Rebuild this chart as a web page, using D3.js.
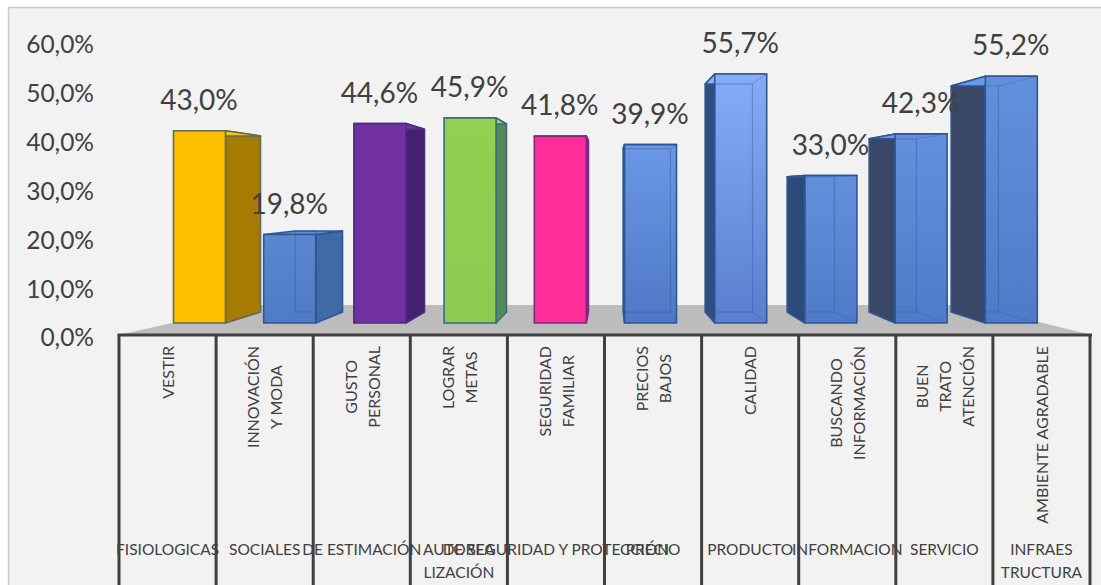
<!DOCTYPE html>
<html lang="es">
<head>
<meta charset="utf-8">
<title>Motivaciones de compra</title>
<script src="https://cdn.jsdelivr.net/npm/d3@7/dist/d3.min.js"></script>
<style>
  html, body { margin: 0; padding: 0; background: #fff; }
  svg { display: block; }
  text { font-family: Lato, "Open Sans", sans-serif; fill: #404040; }
</style>
</head>
<body>
<svg id="chart" width="1101" height="585"></svg>
<script>
// Chart values
const needs = [
  ["VESTIR"], ["INNOVACIÓN", "Y MODA"], ["GUSTO", "PERSONAL"], ["LOGRAR", "METAS"],
  ["SEGURIDAD", "FAMILIAR"], ["PRECIOS", "BAJOS"], ["CALIDAD"],
  ["BUSCANDO", "INFORMACIÓN"], ["BUEN", "TRATO", "ATENCIÓN"], ["AMBIENTE AGRADABLE"]
];
const groups = [
  ["FISIOLOGICAS"], ["SOCIALES"], ["DE ESTIMACIÓN"], ["AUTOREA", "LIZACIÓN"],
  ["DE SEGURIDAD Y PROTECCIÓN"], ["PRECIO"], ["PRODUCTO"], ["INFORMACION"],
  ["SERVICIO"], ["INFRAES", "TRUCTURA"]
];
const percentages = [43.0, 19.8, 44.6, 45.9, 41.8, 39.9, 55.7, 33.0, 42.3, 55.2];
const valueTicks = [0, 10, 20, 30, 40, 50, 60];

// Face colours per bar: front top, front bottom, side, outline
const frontTop    = ["#ffc000", "#5a88cf", "#7030a0", "#92d050", "#ff2d9a", "#6a98e6", "#86acf6", "#6390dc", "#6390dc", "#6390dc"];
const frontBottom = ["#ffc000", "#4f7bc6", "#7030a0", "#8ccb50", "#ff2d9a", "#4f78c6", "#5a7ecd", "#4f7ac8", "#4f7ac8", "#4f7ac8"];
const sideFill    = ["#a67c00", "#3f6aa3", "#44206f", "#55895c", "#7a2a70", "#3f66ad", "#2f4f7e", "#2e4a78", "#3a4868", "#3a4868"];
const outline     = ["#5f6a5a", "#2f5597", "#4a2c82", "#3a6b78", "#7a2a80", "#2f5597", "#2f5597", "#2f5597", "#2f5597", "#2f5597"];
const showsBackEdges = [false, true, false, false, false, true, true, true, true, true];

const svg = d3.select("#chart");
const locale = d3.formatLocale({ decimal: ",", thousands: ".", grouping: [3], currency: ["", "€"] });
const fmt = v => locale.format(".1f")(v) + "%";

// Panel
svg.append("rect").attr("x", 8).attr("y", 8).attr("width", 1093).attr("height", 577)
  .attr("fill", "#f2f2f2");
svg.append("path").attr("d", "M8.5 585V7.5H1101").attr("fill", "none")
  .attr("stroke", "#c9c9c9").attr("stroke-width", 1.5);

// Scales: wall ticks, front plane of the bars, table columns
const tickScale = d3.scaleLinear().domain([0, 60]).range([338, 45]);
const y = d3.scaleLinear().domain([0, 60]).range([323, 54.8]);
const indices = d3.range(percentages.length);
const x = d3.scaleBand().domain(indices).range([154.4, 1056.4]).paddingInner(0.4235).paddingOuter(0.21175);
const col = d3.scaleBand().domain(indices).range([119, 1090]);

// Perspective projection from the front plane to the back plane
const depthX = 0.909, depthY = 0.916, vanishX = 610, vanishY = 192;
const backX = v => vanishX + (v - vanishX) * depthX;
const backY = v => vanishY + (v - vanishY) * depthY;

// Floor
svg.append("path")
  .attr("d", d3.line()([[118, 335], [254, 305], [968, 305], [1092, 335]]))
  .attr("fill", "#bcbcbc");

// Value axis
const axis = svg.append("g").attr("transform", "translate(94,0)")
  .call(d3.axisLeft(tickScale).tickValues(valueTicks).tickFormat(fmt).tickSize(0).tickPadding(0));
axis.select(".domain").remove();
axis.selectAll("text").attr("font-size", 24.5).attr("dy", "0.32em").style("fill", "#404040");

// Table grid under the floor
const gridColor = "#404040";
svg.append("line").attr("x1", 117.5).attr("x2", 1092).attr("y1", 335).attr("y2", 335)
  .attr("stroke", gridColor).attr("stroke-width", 3);
svg.append("g").selectAll("line").data(d3.range(percentages.length + 1)).join("line")
  .attr("x1", i => 119 + i * col.step()).attr("x2", i => 119 + i * col.step())
  .attr("y1", 335).attr("y2", 585)
  .attr("stroke", gridColor).attr("stroke-width", 3);

// Bars
const defs = svg.append("defs");
indices.forEach(i => {
  const g = defs.append("linearGradient").attr("id", "front" + i)
    .attr("x1", 0).attr("x2", 0).attr("y1", 0).attr("y2", 1);
  g.append("stop").attr("offset", 0).attr("stop-color", frontTop[i]);
  g.append("stop").attr("offset", 1).attr("stop-color", frontBottom[i]);
});

const line = d3.line().curve(d3.curveLinearClosed);
const bars = svg.append("g").selectAll("g").data(indices).join("g");
bars.each(function (i) {
  const g = d3.select(this);
  const x0 = x(i), x1 = x0 + x.bandwidth();
  const top = y(percentages[i]), base = y(0);
  const bx0 = backX(x0), bx1 = backX(x1), bTop = backY(top), bBase = backY(base);
  const face = (pts, fill) => g.append("path").attr("d", line(pts)).attr("fill", fill)
    .attr("stroke", outline[i]).attr("stroke-width", 1.6).attr("stroke-linejoin", "round");

  // Whichever side faces the viewer depends on the bar's place around the vanishing point
  if (bx0 < x0) face([[bx0, bTop], [x0, top], [x0, base], [bx0, bBase]], sideFill[i]);
  if (bx1 > x1) face([[x1, top], [bx1, bTop], [bx1, bBase], [x1, base]], sideFill[i]);
  face([[x0, top], [x1, top], [bx1, bTop], [bx0, bTop]], d3.color(frontTop[i]).brighter(0.15));
  face([[x0, top], [x1, top], [x1, base], [x0, base]], `url(#front${i})`);

  if (showsBackEdges[i]) {
    const inner = [[Math.max(bx0, x0), bTop], [Math.min(bx1, x1), bTop], [Math.min(bx1, x1), bBase], [Math.max(bx0, x0), bBase]];
    g.append("path").attr("d", line(inner)).attr("fill", "none")
      .attr("stroke", outline[i]).attr("stroke-opacity", 0.4).attr("stroke-width", 1.2);
    g.append("path").attr("d", d3.line()([[x1, top], [Math.min(bx1, x1), bTop]])).attr("stroke", outline[i]).attr("stroke-opacity", 0.3);
    g.append("path").attr("d", d3.line()([[x1, base], [Math.min(bx1, x1), bBase]])).attr("stroke", outline[i]).attr("stroke-opacity", 0.3);
  }
});

// Value labels above the bars
svg.append("g").selectAll("text").data(indices).join("text")
  .attr("x", i => x(i) + x.bandwidth() / 2 - 0.5)
  .attr("y", i => y(percentages[i]) - 31)
  .attr("dy", "0.36em")
  .attr("text-anchor", "middle")
  .attr("font-size", 28)
  .text(i => fmt(percentages[i]));

// Rotated need labels: lines centred on each other, block hanging from the top rule
const needLineGap = 23, needTop = 346;
svg.append("g").selectAll("g").data(indices).join("g").each(function (i) {
  const g = d3.select(this), lines = needs[i];
  const texts = g.selectAll("text").data(lines).join("text")
    .attr("font-size", 16).attr("text-anchor", "middle").attr("dy", "0.36em").text(d => d);
  const longest = d3.max(texts.nodes(), n => n.getComputedTextLength());
  const cx = col(i) + col.bandwidth() / 2 + 0.5;
  texts.attr("transform", (d, k) =>
    `translate(${cx + (k - (lines.length - 1) / 2) * needLineGap},${needTop + longest / 2}) rotate(-90)`);
});

// Group labels along the bottom of the table
const groupTop = 549, groupLineGap = 23;
svg.append("g").selectAll("g").data(indices).join("g").each(function (i) {
  d3.select(this).selectAll("text").data(groups[i]).join("text")
    .attr("x", col(i) + col.bandwidth() / 2)
    .attr("y", (d, k) => groupTop + k * groupLineGap)
    .attr("dy", "0.36em").attr("text-anchor", "middle").attr("font-size", 15.5)
    .text(d => d);
});
</script>
</body>
</html>
